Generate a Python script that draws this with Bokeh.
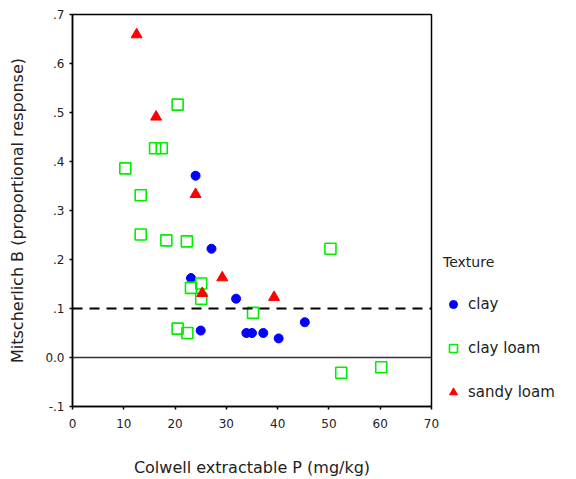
from bokeh.plotting import figure
from bokeh.models import Range1d, FixedTicker, Span, Legend, LegendItem
from bokeh.embed import file_html
from bokeh.resources import INLINE

# ---- data ----
clay_x = [24.0, 27.1, 23.1, 31.9, 45.3, 25.0, 33.9, 35.0, 37.2, 40.2]
clay_y = [0.371, 0.222, 0.162, 0.120, 0.072, 0.055, 0.050, 0.050, 0.050, 0.039]

clayloam_x = [20.5, 16.1, 17.4, 10.3, 13.3, 13.3, 18.3, 22.3, 23.1, 25.1, 25.1,
              35.2, 20.5, 22.4, 50.3, 52.4, 60.2]
clayloam_y = [0.516, 0.427, 0.427, 0.386, 0.331, 0.251, 0.239, 0.237, 0.142, 0.151,
              0.120, 0.091, 0.059, 0.050, 0.222, -0.031, -0.020]

sandyloam_x = [12.5, 16.3, 24.0, 29.2, 25.3, 39.3]
sandyloam_y = [0.659, 0.491, 0.333, 0.163, 0.131, 0.123]

x_ticks = [0, 10, 20, 30, 40, 50, 60, 70]
y_ticks = [-0.1, 0.0, 0.1, 0.2, 0.3, 0.4, 0.5, 0.6, 0.7]
y_tick_labels = ["-.1", "0.0", ".1", ".2", ".3", ".4", ".5", ".6", ".7"]
threshold = 0.1
zero_line = 0.0

FONT = "DejaVu Sans"

p = figure(frame_width=359, frame_height=392, output_backend="svg",
           toolbar_location=None,
           x_range=Range1d(0, 70), y_range=Range1d(-0.1, 0.7),
           min_border_left=72, min_border_right=131, min_border_top=14,
           min_border_bottom=72)
p.grid.visible = False
p.outline_line_color = "black"
p.outline_line_width = 1.5
p.background_fill_color = "white"
p.border_fill_color = "white"

for ax in (p.xaxis[0], p.yaxis[0]):
    ax.axis_line_color = "black"
    ax.axis_line_width = 1.5
    ax.major_tick_line_color = "black"
    ax.major_tick_line_width = 1.5
    ax.major_tick_out = 3
    ax.major_tick_in = 0
    ax.minor_tick_line_color = None
    ax.major_label_text_font = FONT
    ax.major_label_text_font_size = "12px"
    ax.major_label_text_color = "#222222"
    ax.axis_label_text_font = FONT
    ax.axis_label_text_font_size = "16px"
    ax.axis_label_text_font_style = "normal"
    ax.axis_label_text_color = "#222222"

p.xaxis.ticker = FixedTicker(ticks=x_ticks)
p.yaxis.ticker = FixedTicker(ticks=y_ticks)
p.yaxis.major_label_overrides = {t: l for t, l in zip(y_ticks, y_tick_labels)}
p.xaxis.major_label_standoff = 9
p.yaxis.major_label_standoff = 5
p.xaxis.axis_label = "Colwell extractable P (mg/kg)"
p.yaxis.axis_label = "Mitscherlich B (proportional response)"
p.xaxis.axis_label_standoff = 27
p.yaxis.axis_label_standoff = 15

p.add_layout(Span(location=threshold, dimension="width", line_color="black",
                  line_width=2, line_dash="10 7"))
p.add_layout(Span(location=zero_line, dimension="width", line_color="#333333",
                  line_width=1.5))

r_clay = p.scatter(clay_x, clay_y, marker="circle", size=9,
                   fill_color="#0000ff", line_color="#0000ff")
r_cl = p.scatter(clayloam_x, clayloam_y, marker="square", size=11,
                 fill_color=None, line_color="#00ee00", line_width=1.6)
r_sl = p.scatter(sandyloam_x, sandyloam_y, marker="triangle", size=11,
                 fill_color="#ff0000", line_color="#ff0000")

legend = Legend(items=[LegendItem(label="clay", renderers=[r_clay]),
                       LegendItem(label="clay loam", renderers=[r_cl]),
                       LegendItem(label="sandy loam", renderers=[r_sl])],
                location=(12, 4), title="Texture")
legend.border_line_color = None
legend.background_fill_alpha = 0
legend.padding = 0
legend.margin = 0
legend.spacing = 24
legend.glyph_width = 20
legend.glyph_height = 20
legend.label_height = 20
legend.label_standoff = 5
legend.label_text_font = FONT
legend.label_text_font_size = "15px"
legend.label_text_color = "#222222"
legend.title_text_font = FONT
legend.title_text_font_size = "14px"
legend.title_text_font_style = "normal"
legend.title_text_color = "#222222"
legend.title_standoff = 24
p.add_layout(legend, "right")

open("out.html", "w").write(file_html(p, INLINE))
